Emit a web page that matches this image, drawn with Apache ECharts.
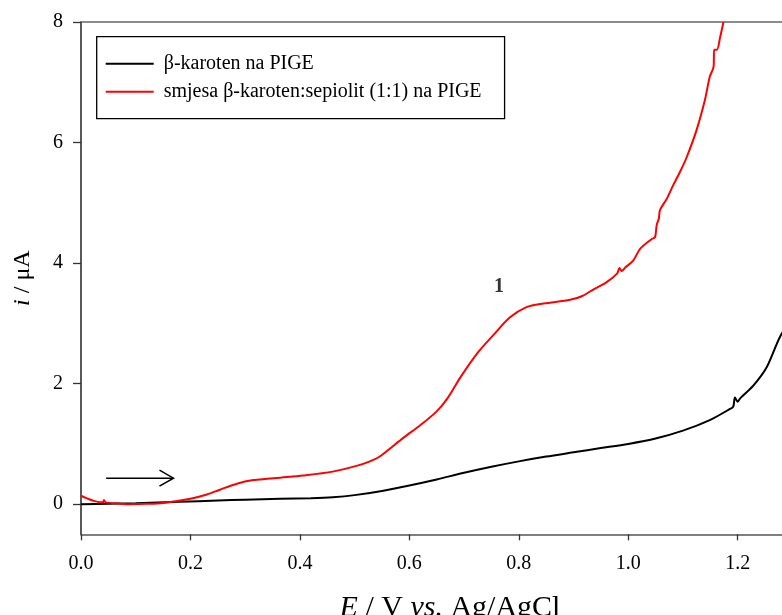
<!DOCTYPE html>
<html>
<head>
<meta charset="utf-8">
<script src="https://cdn.jsdelivr.net/npm/echarts@6/dist/echarts.min.js"></script>
<style>html,body{margin:0;padding:0;background:#fff}#c{width:782px;height:615px}</style>
</head>
<body>
<div id="c"></div>
<script>
// ---- data ----
var seriesNames = ['β-karoten na PIGE', 'smjesa β-karoten:sepiolit (1:1) na PIGE'];
var blackE = [0, 0.05, 0.1, 0.18, 0.25, 0.3, 0.364, 0.42, 0.46, 0.5, 0.55, 0.6, 0.65, 0.7, 0.75, 0.8, 0.85, 0.9, 0.95, 1.0, 1.05, 1.1, 1.15, 1.186, 1.192, 1.195, 1.2, 1.205, 1.229, 1.253, 1.277, 1.3];
var blackI = [0, 0.005, 0.015, 0.04, 0.06, 0.075, 0.09, 0.10, 0.115, 0.15, 0.22, 0.31, 0.41, 0.52, 0.62, 0.71, 0.79, 0.86, 0.93, 1.00, 1.09, 1.22, 1.40, 1.58, 1.62, 1.77, 1.70, 1.76, 1.97, 2.27, 2.77, 3.1];
var redE = [0, 0.01, 0.025, 0.04, 0.042, 0.045, 0.07, 0.09, 0.12, 0.15, 0.2, 0.23, 0.254, 0.285, 0.315, 0.34, 0.364, 0.406, 0.46, 0.505, 0.528, 0.546, 0.589, 0.62, 0.65, 0.67, 0.693, 0.723, 0.753, 0.784, 0.814, 0.845, 0.894, 0.915, 0.936, 0.96, 0.98, 0.984, 0.988, 0.995, 1.009, 1.022, 1.043, 1.049, 1.052, 1.056, 1.058, 1.07, 1.082, 1.095, 1.107, 1.125, 1.14, 1.149, 1.156, 1.157, 1.162, 1.168, 1.174];
var redI = [0.14, 0.10, 0.05, 0.03, 0.07, 0.03, 0.01, 0, 0.005, 0.02, 0.09, 0.16, 0.24, 0.34, 0.40, 0.42, 0.44, 0.475, 0.54, 0.64, 0.71, 0.79, 1.10, 1.31, 1.54, 1.76, 2.10, 2.49, 2.80, 3.10, 3.27, 3.33, 3.39, 3.45, 3.56, 3.68, 3.83, 3.92, 3.87, 3.93, 4.04, 4.24, 4.40, 4.43, 4.63, 4.74, 4.88, 5.06, 5.29, 5.52, 5.76, 6.21, 6.70, 7.09, 7.26, 7.54, 7.54, 7.75, 8.0];
var xTicks = [0.0, 0.2, 0.4, 0.6, 0.8, 1.0, 1.2];
var yTicks = [0, 2, 4, 6, 8];
var peakLabel = ['1'];
var peakPos = [0.764, 3.60];
var arrowFrom = [0.046, 0.432];
var arrowTo = [0.169, 0.432];

function zip(a, b) { return a.map(function (v, i) { return [v, b[i]]; }); }

var FONT = 'Liberation Serif';
var chart = echarts.init(document.getElementById('c'), null, { renderer: 'canvas' });
chart.setOption({
  animation: false,
  backgroundColor: '#fff',
  grid: { left: 81, top: 22, right: 0, height: 512.3, containLabel: false, outerBoundsMode: 'none' },
  legend: {
    orient: 'vertical', left: 96.7, top: 36.7,
    padding: [17, 23, 17, 9],
    itemGap: 8, itemWidth: 48, itemHeight: 2, icon: 'rect',
    borderColor: '#000', borderWidth: 1.3,
    data: seriesNames,
    textStyle: { fontFamily: FONT, fontSize: 20, color: '#000', padding: [0, 0, 0, 5] }
  },
  xAxis: [{
    type: 'value', min: 0, max: 1.281, position: 'bottom',
    name: '{i|E} / V {i|vs.} Ag/AgCl', nameLocation: 'middle', nameGap: 59,
    nameTextStyle: { fontFamily: FONT, fontSize: 30, color: '#000', padding: [0, 0, 0, 37],
      rich: { i: { fontFamily: FONT, fontSize: 30, fontStyle: 'italic', color: '#000' } } },
    axisLine: { onZero: false, lineStyle: { color: '#555', width: 1.5 } },
    axisTick: { inside: false, length: 6, lineStyle: { color: '#333', width: 1.3 }, customValues: xTicks },
    axisLabel: { fontFamily: FONT, fontSize: 20, color: '#000', margin: 19, customValues: xTicks,
      formatter: function (v) { return v.toFixed(1); } },
    splitLine: { show: false }
  }, {
    type: 'value', min: 0, max: 1.281, position: 'top',
    axisLine: { show: true, onZero: false, lineStyle: { color: '#666', width: 1.5 } },
    axisTick: { show: false }, axisLabel: { show: false }, splitLine: { show: false }
  }],
  yAxis: {
    type: 'value', min: -0.5, max: 8,
    name: '{i|i} / μA', nameLocation: 'middle', nameGap: 46,
    nameTextStyle: { fontFamily: FONT, fontSize: 24, color: '#000',
      rich: { i: { fontFamily: FONT, fontSize: 24, fontStyle: 'italic', color: '#000' } } },
    axisLine: { show: true, onZero: false, lineStyle: { color: '#222', width: 1.5 } },
    axisTick: { show: true, inside: false, length: 8, lineStyle: { color: '#333', width: 1.3 }, customValues: yTicks },
    axisLabel: { fontFamily: FONT, fontSize: 20, color: '#000', margin: 18, customValues: yTicks },
    splitLine: { show: false }
  },
  series: [{
    name: seriesNames[0], type: 'line', data: zip(blackE, blackI),
    showSymbol: false, symbol: 'none', smooth: 0.3,
    lineStyle: { color: '#000', width: 2 }, itemStyle: { color: '#000' }
  }, {
    name: seriesNames[1], type: 'line', data: zip(redE, redI),
    showSymbol: false, symbol: 'none', smooth: 0.3,
    lineStyle: { color: '#ff0000', width: 2 }, itemStyle: { color: '#ff0000' }
  }, {
    type: 'scatter', data: [peakPos], symbolSize: 0, silent: true,
    label: { show: true, position: 'inside', formatter: peakLabel[0],
      fontFamily: FONT, fontSize: 20, fontWeight: 'bold', color: '#000' }
  }, {
    type: 'custom', silent: true,
    data: [[arrowFrom[0], arrowFrom[1], arrowTo[0], arrowTo[1]]],
    renderItem: function (params, api) {
      var p1 = api.coord([api.value(0), api.value(1)]);
      var p2 = api.coord([api.value(2), api.value(3)]);
      var st = { stroke: '#000', lineWidth: 1.5, fill: null };
      return { type: 'group', children: [
        { type: 'line', shape: { x1: p1[0], y1: p1[1], x2: p2[0], y2: p2[1] }, style: st },
        { type: 'polyline', shape: { points: [[p2[0] - 14, p2[1] - 8], [p2[0], p2[1]], [p2[0] - 14, p2[1] + 8]] }, style: st }
      ] };
    }
  }]
});
</script>
</body>
</html>
